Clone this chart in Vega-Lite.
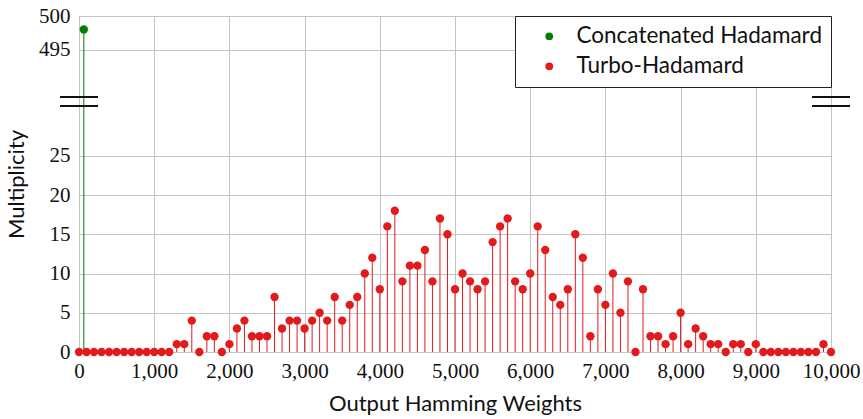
{
  "$schema": "https://vega.github.io/schema/vega-lite/v6.json",
  "width": 752,
  "height": 336,
  "autosize": "none",
  "padding": {"left": 79, "top": 16, "right": 32, "bottom": 67},
  "background": "white",
  "config": {
    "view": {"stroke": "#222", "strokeWidth": 1},
    "axis": {
      "domain": false,
      "ticks": false,
      "grid": true,
      "gridColor": "#c4c4c4",
      "gridWidth": 1
    },
    "legend": {
      "orient": "top-right",
      "offset": 0,
      "padding": 9,
      "strokeColor": "#222",
      "fillColor": "white",
      "labelFont": "Lato",
      "labelFontSize": 22.5,
      "labelLimit": 400,
      "labelColor": "#111",
      "symbolSize": 60,
      "symbolType": "circle",
      "symbolOffset": 14,
      "labelOffset": 16,
      "rowPadding": 7,
      "cornerRadius": 0
    }
  },
  "data": {
    "values": [
      {"w": 64, "m": 498, "code": "Concatenated Hadamard"},
      {"w": 0, "m": 0, "code": "Turbo-Hadamard"},
      {"w": 100, "m": 0, "code": "Turbo-Hadamard"},
      {"w": 200, "m": 0, "code": "Turbo-Hadamard"},
      {"w": 300, "m": 0, "code": "Turbo-Hadamard"},
      {"w": 400, "m": 0, "code": "Turbo-Hadamard"},
      {"w": 500, "m": 0, "code": "Turbo-Hadamard"},
      {"w": 600, "m": 0, "code": "Turbo-Hadamard"},
      {"w": 700, "m": 0, "code": "Turbo-Hadamard"},
      {"w": 800, "m": 0, "code": "Turbo-Hadamard"},
      {"w": 900, "m": 0, "code": "Turbo-Hadamard"},
      {"w": 1000, "m": 0, "code": "Turbo-Hadamard"},
      {"w": 1100, "m": 0, "code": "Turbo-Hadamard"},
      {"w": 1200, "m": 0, "code": "Turbo-Hadamard"},
      {"w": 1300, "m": 1, "code": "Turbo-Hadamard"},
      {"w": 1400, "m": 1, "code": "Turbo-Hadamard"},
      {"w": 1500, "m": 4, "code": "Turbo-Hadamard"},
      {"w": 1600, "m": 0, "code": "Turbo-Hadamard"},
      {"w": 1700, "m": 2, "code": "Turbo-Hadamard"},
      {"w": 1800, "m": 2, "code": "Turbo-Hadamard"},
      {"w": 1900, "m": 0, "code": "Turbo-Hadamard"},
      {"w": 2000, "m": 1, "code": "Turbo-Hadamard"},
      {"w": 2100, "m": 3, "code": "Turbo-Hadamard"},
      {"w": 2200, "m": 4, "code": "Turbo-Hadamard"},
      {"w": 2300, "m": 2, "code": "Turbo-Hadamard"},
      {"w": 2400, "m": 2, "code": "Turbo-Hadamard"},
      {"w": 2500, "m": 2, "code": "Turbo-Hadamard"},
      {"w": 2600, "m": 7, "code": "Turbo-Hadamard"},
      {"w": 2700, "m": 3, "code": "Turbo-Hadamard"},
      {"w": 2800, "m": 4, "code": "Turbo-Hadamard"},
      {"w": 2900, "m": 4, "code": "Turbo-Hadamard"},
      {"w": 3000, "m": 3, "code": "Turbo-Hadamard"},
      {"w": 3100, "m": 4, "code": "Turbo-Hadamard"},
      {"w": 3200, "m": 5, "code": "Turbo-Hadamard"},
      {"w": 3300, "m": 4, "code": "Turbo-Hadamard"},
      {"w": 3400, "m": 7, "code": "Turbo-Hadamard"},
      {"w": 3500, "m": 4, "code": "Turbo-Hadamard"},
      {"w": 3600, "m": 6, "code": "Turbo-Hadamard"},
      {"w": 3700, "m": 7, "code": "Turbo-Hadamard"},
      {"w": 3800, "m": 10, "code": "Turbo-Hadamard"},
      {"w": 3900, "m": 12, "code": "Turbo-Hadamard"},
      {"w": 4000, "m": 8, "code": "Turbo-Hadamard"},
      {"w": 4100, "m": 16, "code": "Turbo-Hadamard"},
      {"w": 4200, "m": 18, "code": "Turbo-Hadamard"},
      {"w": 4300, "m": 9, "code": "Turbo-Hadamard"},
      {"w": 4400, "m": 11, "code": "Turbo-Hadamard"},
      {"w": 4500, "m": 11, "code": "Turbo-Hadamard"},
      {"w": 4600, "m": 13, "code": "Turbo-Hadamard"},
      {"w": 4700, "m": 9, "code": "Turbo-Hadamard"},
      {"w": 4800, "m": 17, "code": "Turbo-Hadamard"},
      {"w": 4900, "m": 15, "code": "Turbo-Hadamard"},
      {"w": 5000, "m": 8, "code": "Turbo-Hadamard"},
      {"w": 5100, "m": 10, "code": "Turbo-Hadamard"},
      {"w": 5200, "m": 9, "code": "Turbo-Hadamard"},
      {"w": 5300, "m": 8, "code": "Turbo-Hadamard"},
      {"w": 5400, "m": 9, "code": "Turbo-Hadamard"},
      {"w": 5500, "m": 14, "code": "Turbo-Hadamard"},
      {"w": 5600, "m": 16, "code": "Turbo-Hadamard"},
      {"w": 5700, "m": 17, "code": "Turbo-Hadamard"},
      {"w": 5800, "m": 9, "code": "Turbo-Hadamard"},
      {"w": 5900, "m": 8, "code": "Turbo-Hadamard"},
      {"w": 6000, "m": 10, "code": "Turbo-Hadamard"},
      {"w": 6100, "m": 16, "code": "Turbo-Hadamard"},
      {"w": 6200, "m": 13, "code": "Turbo-Hadamard"},
      {"w": 6300, "m": 7, "code": "Turbo-Hadamard"},
      {"w": 6400, "m": 6, "code": "Turbo-Hadamard"},
      {"w": 6500, "m": 8, "code": "Turbo-Hadamard"},
      {"w": 6600, "m": 15, "code": "Turbo-Hadamard"},
      {"w": 6700, "m": 12, "code": "Turbo-Hadamard"},
      {"w": 6800, "m": 2, "code": "Turbo-Hadamard"},
      {"w": 6900, "m": 8, "code": "Turbo-Hadamard"},
      {"w": 7000, "m": 6, "code": "Turbo-Hadamard"},
      {"w": 7100, "m": 10, "code": "Turbo-Hadamard"},
      {"w": 7200, "m": 5, "code": "Turbo-Hadamard"},
      {"w": 7300, "m": 9, "code": "Turbo-Hadamard"},
      {"w": 7400, "m": 0, "code": "Turbo-Hadamard"},
      {"w": 7500, "m": 8, "code": "Turbo-Hadamard"},
      {"w": 7600, "m": 2, "code": "Turbo-Hadamard"},
      {"w": 7700, "m": 2, "code": "Turbo-Hadamard"},
      {"w": 7800, "m": 1, "code": "Turbo-Hadamard"},
      {"w": 7900, "m": 2, "code": "Turbo-Hadamard"},
      {"w": 8000, "m": 5, "code": "Turbo-Hadamard"},
      {"w": 8100, "m": 1, "code": "Turbo-Hadamard"},
      {"w": 8200, "m": 3, "code": "Turbo-Hadamard"},
      {"w": 8300, "m": 2, "code": "Turbo-Hadamard"},
      {"w": 8400, "m": 1, "code": "Turbo-Hadamard"},
      {"w": 8500, "m": 1, "code": "Turbo-Hadamard"},
      {"w": 8600, "m": 0, "code": "Turbo-Hadamard"},
      {"w": 8700, "m": 1, "code": "Turbo-Hadamard"},
      {"w": 8800, "m": 1, "code": "Turbo-Hadamard"},
      {"w": 8900, "m": 0, "code": "Turbo-Hadamard"},
      {"w": 9000, "m": 1, "code": "Turbo-Hadamard"},
      {"w": 9100, "m": 0, "code": "Turbo-Hadamard"},
      {"w": 9200, "m": 0, "code": "Turbo-Hadamard"},
      {"w": 9300, "m": 0, "code": "Turbo-Hadamard"},
      {"w": 9400, "m": 0, "code": "Turbo-Hadamard"},
      {"w": 9500, "m": 0, "code": "Turbo-Hadamard"},
      {"w": 9600, "m": 0, "code": "Turbo-Hadamard"},
      {"w": 9700, "m": 0, "code": "Turbo-Hadamard"},
      {"w": 9800, "m": 0, "code": "Turbo-Hadamard"},
      {"w": 9900, "m": 1, "code": "Turbo-Hadamard"},
      {"w": 10000, "m": 0, "code": "Turbo-Hadamard"}
    ]
  },
  "encoding": {
    "x": {
      "field": "w",
      "type": "quantitative",
      "title": "Output Hamming Weights",
      "scale": {"domain": [0, 10000], "nice": false, "zero": false},
      "axis": {
        "values": [0, 1000, 2000, 3000, 4000, 5000, 6000, 7000, 8000, 9000, 10000],
        "format": ",.0f",
        "labelFont": "'Liberation Serif', serif",
        "labelFontSize": 21,
        "labelColor": "#111",
        "titleFont": "Lato",
        "titleFontSize": 22,
        "titleFontWeight": "normal",
        "titleColor": "#111",
        "labelPadding": 8,
        "titlePadding": 12,
        "labelFlush": false
      }
    },
    "y": {
      "field": "m",
      "type": "quantitative",
      "title": "Multiplicity",
      "scale": {"domain": [0, 31.3, 487.9, 500], "range": [336, 90.3, 81.3, 0], "nice": false, "zero": false},
      "axis": {
        "values": [0, 5, 10, 15, 20, 25, 495, 500],
        "format": "d",
        "labelFont": "'Liberation Serif', serif",
        "labelFontSize": 21,
        "labelColor": "#111",
        "titleFont": "Lato",
        "titleFontSize": 22,
        "titleFontWeight": "normal",
        "titleColor": "#111",
        "labelPadding": 9,
        "titlePadding": 10,
        "labelFlush": false
      }
    }
  },
  "layer": [
    {
      "transform": [{"filter": "datum.code === 'Turbo-Hadamard'"}],
      "mark": {"type": "rule", "strokeWidth": 1, "color": "#e31a1c"},
      "encoding": {"y2": {"datum": 0}}
    },
    {
      "transform": [{"filter": "datum.code === 'Concatenated Hadamard'"}],
      "mark": {"type": "rule", "strokeWidth": 1, "color": "#008000"},
      "encoding": {"y2": {"datum": 0}}
    },
    {
      "mark": {"type": "point", "filled": true, "size": 70, "opacity": 1, "shape": "circle"},
      "encoding": {
        "color": {
          "field": "code",
          "type": "nominal",
          "title": null,
          "scale": {"domain": ["Concatenated Hadamard", "Turbo-Hadamard"], "range": ["#008000", "#e31a1c"]}
        }
      }
    },
    {
      "mark": {"type": "rule", "color": "#111", "strokeWidth": 1.2, "clip": false},
      "encoding": {"x": {"datum": -250}, "x2": {"datum": 250}, "y": {"datum": 31.3}}
    },
    {
      "mark": {"type": "rule", "color": "#111", "strokeWidth": 1.2, "clip": false},
      "encoding": {"x": {"datum": -250}, "x2": {"datum": 250}, "y": {"datum": 487.9}}
    },
    {
      "mark": {"type": "rule", "color": "#111", "strokeWidth": 1.2, "clip": false},
      "encoding": {"x": {"datum": 9750}, "x2": {"datum": 10250}, "y": {"datum": 31.3}}
    },
    {
      "mark": {"type": "rule", "color": "#111", "strokeWidth": 1.2, "clip": false},
      "encoding": {"x": {"datum": 9750}, "x2": {"datum": 10250}, "y": {"datum": 487.9}}
    }
  ]
}
